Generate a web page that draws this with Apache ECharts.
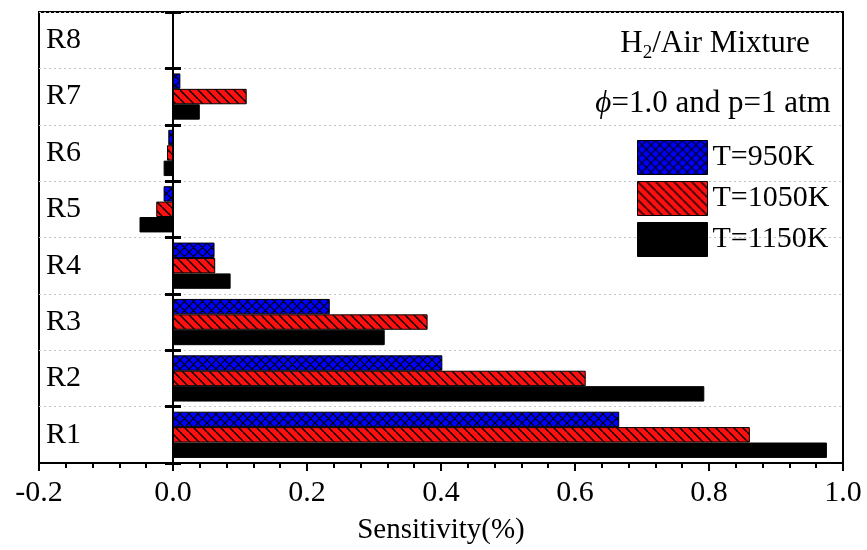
<!DOCTYPE html>
<html>
<head>
<meta charset="utf-8">
<title>Sensitivity</title>
<script src="https://cdn.jsdelivr.net/npm/echarts@6/dist/echarts.min.js"></script>
<style>
  html, body { margin: 0; padding: 0; background: #fff; }
  #chart { width: 867px; height: 550px; }
</style>
</head>
<body>
<div id="chart"></div>
<script>
// Reactions, bottom to top
const categories = ['R1', 'R2', 'R3', 'R4', 'R5', 'R6', 'R7', 'R8'];
// Sensitivity (%) per reaction at each temperature
const t950 = [0.666, 0.402, 0.234, 0.062, -0.014, -0.007, 0.011, 0];
const t1050 = [0.861, 0.616, 0.380, 0.063, -0.025, -0.009, 0.110, 0];
const t1150 = [0.976, 0.793, 0.316, 0.086, -0.050, -0.014, 0.040, 0];
const seriesNames = ['T=950K', 'T=1050K', 'T=1150K'];
const xTicks = [-0.2, 0.0, 0.2, 0.4, 0.6, 0.8, 1.0];

const FONT = '"Liberation Serif", "Times New Roman", serif';

// Hatched fills: diagonal lines ("\") and optional crossing lines ("/")
function hatch(bg, cross, size, lw) {
  const c = document.createElement('canvas');
  c.width = size; c.height = size;
  const g = c.getContext('2d');
  g.fillStyle = bg;
  g.fillRect(0, 0, size, size);
  g.strokeStyle = '#000';
  g.lineWidth = lw;
  g.beginPath();
  for (const k of [-size, 0, size]) {
    g.moveTo(k, 0); g.lineTo(k + size, size);
    if (cross) { g.moveTo(k + size, 0); g.lineTo(k, size); }
  }
  g.stroke();
  return { image: c, repeat: 'repeat' };
}

const fills = [
  hatch('#0000ff', true, 9, 1.1),
  hatch('#ff1010', false, 9, 1.4),
  '#000000'
];
const values = [t950, t1050, t1150];

const chart = echarts.init(document.getElementById('chart'), null, { renderer: 'canvas' });

// first series sits at the top of each reaction's group
const series = [0, 1, 2].map(i => ({
  name: seriesNames[i],
  type: 'bar',
  yAxisIndex: 0,
  data: values[i],
  barGap: '0%',
  barCategoryGap: '18%',
  itemStyle: { color: fills[i], borderColor: '#000', borderWidth: 1 },
  emphasis: { disabled: true },
  animation: false
}));

const option = {
  animation: false,
  backgroundColor: '#ffffff',
  grid: {
    left: 39, right: 24, top: 12, bottom: 85,
    show: true, borderColor: '#000', borderWidth: 2, backgroundColor: 'transparent'
  },
  legend: {
    data: seriesNames,
    orient: 'vertical',
    left: 632, top: 135,
    itemWidth: 70, itemHeight: 34, itemGap: 6,
    icon: 'rect',
    selectedMode: false,
    itemStyle: { borderColor: '#000', borderWidth: 1 },
    textStyle: { fontFamily: FONT, fontSize: 30, color: '#000' }
  },
  xAxis: {
    type: 'value',
    min: xTicks[0], max: xTicks[xTicks.length - 1], interval: 0.2,
    name: 'Sensitivity(%)',
    nameLocation: 'middle', nameGap: 53,
    nameTextStyle: { fontFamily: FONT, fontSize: 29, color: '#000' },
    axisLine: { show: true, lineStyle: { color: '#000', width: 2 } },
    axisTick: { show: true, length: 8, lineStyle: { color: '#000', width: 2 } },
    minorTick: { show: true, splitNumber: 5, length: 5, lineStyle: { color: '#000', width: 2 } },
    splitLine: { show: false },
    axisLabel: {
      fontFamily: FONT, fontSize: 30, color: '#000', margin: 15,
      formatter: v => v.toFixed(1)
    }
  },
  yAxis: [
    {
      // reaction labels along the left edge
      type: 'category', data: categories, position: 'left',
      axisLine: { show: false, onZero: false },
      axisTick: { show: false },
      axisLabel: { inside: true, margin: 7, fontFamily: FONT, fontSize: 30, color: '#000' },
      splitLine: { show: true, lineStyle: { color: '#c4c4c4', type: [2, 3], width: 1 } }
    },
    {
      // zero line with ticks pointing left
      type: 'category', data: categories, position: 'left',
      axisLine: { show: true, onZero: true, onZeroAxisIndex: 0, lineStyle: { color: '#000', width: 2 } },
      axisTick: { show: true, length: 8, lineStyle: { color: '#000', width: 3 } },
      axisLabel: { show: false },
      splitLine: { show: false }
    },
    {
      // zero line with ticks pointing right
      type: 'category', data: categories, position: 'right',
      axisLine: { show: true, onZero: true, onZeroAxisIndex: 0, lineStyle: { color: '#000', width: 2 } },
      axisTick: { show: true, length: 8, lineStyle: { color: '#000', width: 3 } },
      axisLabel: { show: false },
      splitLine: { show: false }
    }
  ],
  graphic: [
    {
      type: 'text', x: 715, y: 44,
      style: {
        text: '{a|H}{s|2}{a|/Air Mixture}',
        align: 'center', verticalAlign: 'middle',
        rich: {
          a: { fontFamily: FONT, fontSize: 31, fill: '#000' },
          s: { fontFamily: FONT, fontSize: 19, fill: '#000', padding: [18, 0, 0, 0] }
        }
      }
    },
    {
      type: 'text', x: 713, y: 104,
      style: {
        text: '{p|ϕ}{a|=1.0 and p=1 atm}',
        align: 'center', verticalAlign: 'middle',
        rich: {
          p: { fontFamily: FONT, fontSize: 31, fontStyle: 'italic', fill: '#000' },
          a: { fontFamily: FONT, fontSize: 31, fill: '#000' }
        }
      }
    }
  ],
  series: series
};

chart.setOption(option);
</script>
</body>
</html>
